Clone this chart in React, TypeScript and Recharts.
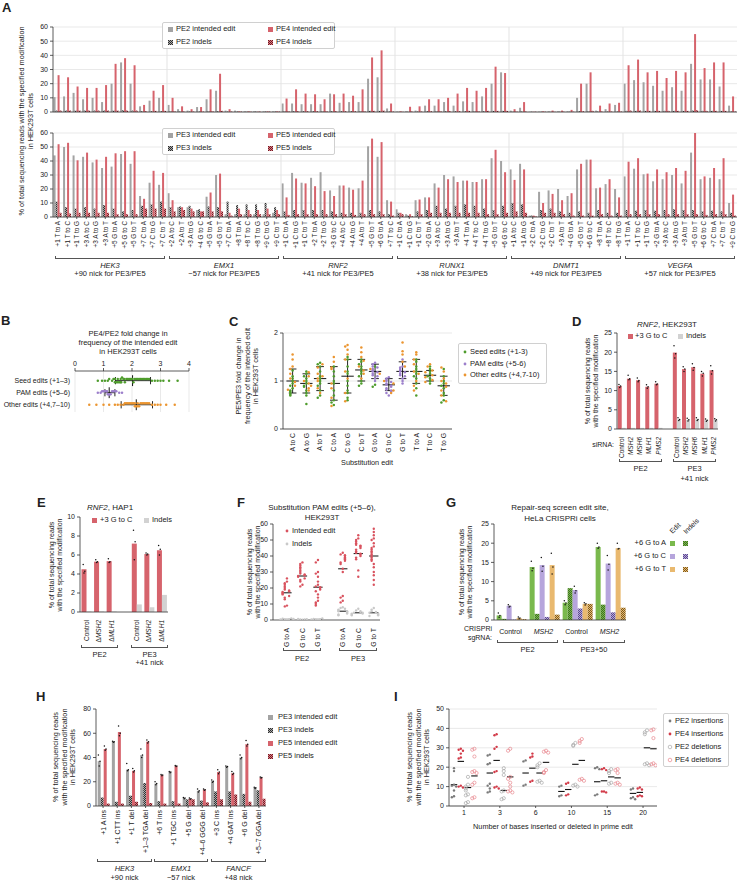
import React from 'react';
import { BarChart, Bar, XAxis, YAxis, CartesianGrid, ScatterChart, Scatter, ReferenceLine } from 'recharts';

const FONT = '"Liberation Sans", Arial, Helvetica, sans-serif';
const INK = '#222';
const GRID = '#e3e3e3';
const GRAY = '#a3a3a3';
const RED = '#d6636c';
const LIGHT = '#d2d2d2';
const GREEN = '#7ab94d';
const PURPLE = '#b6a5dc';
const TAN = '#e9b96f';
const SEED = '#4e9c2c';
const PAM = '#9c7fcb';
const OTHER = '#eb9530';

// ---------- panel A ----------
const hek3Edits = ['+1 T to A', '+1 T to C', '+1 T to G', '+3 A to C', '+3 A to G', '+3 A to T', '+5 G to A', '+5 G to C', '+5 G to T', '+7 C to A', '+7 C to G', '+7 C to T'];
const emx1Edits = ['+2 A to C', '+2 A to T', '+3 A to G', '+4 G to C', '+5 G to A', '+5 G to T', '+7 C to A', '+8 T to A', '+8 T to C', '+8 T to G', '+9 C to G', '+9 C to T'];
const rnf2Edits = ['+1 C to A', '+1 C to G', '+1 C to T', '+2 T to A', '+2 T to G', '+3 G to C', '+4 A to C', '+4 A to G', '+4 A to T', '+5 G to T', '+6 G to A', '+7 T to C'];
const runx1Edits = ['+1 C to A', '+1 C to G', '+1 C to T', '+2 G to A', '+3 A to C', '+3 A to G', '+3 A to T', '+4 T to A', '+4 T to C', '+4 T to G', '+5 G to T', '+6 G to C'];
const dnmt1Edits = ['+1 A to C', '+1 A to G', '+2 C to A', '+2 C to G', '+2 C to T', '+3 A to T', '+4 G to A', '+5 G to T', '+6 G to C', '+8 T to A', '+8 T to C', '+8 T to G'];
const vegfaEdits = ['+1 T to A', '+1 T to C', '+1 T to G', '+2 G to A', '+3 A to C', '+3 A to G', '+3 A to T', '+5 G to T', '+6 G to C', '+7 C to A', '+7 C to T', '+9 C to G'];
const aGenes = ['HEK3', 'EMX1', 'RNF2', 'RUNX1', 'DNMT1', 'VEGFA'];
const aNicks = ['+90 nick for PE3/PE5', '\u221257 nick for PE3/PE5', '+41 nick for PE3/PE5', '+38 nick for PE3/PE5', '+49 nick for PE3/PE5', '+57 nick for PE3/PE5'];
const aEdits = [hek3Edits, emx1Edits, rnf2Edits, runx1Edits, dnmt1Edits, vegfaEdits];

const pe2Edit = [
  10.5, 11, 13.5, 9, 10, 7, 20, 35, 20, 4, 8, 10,
  5, 2, 1, 3.5, 9, 15, 1, 1, 0.5, 0.5, 0.5, 0.5,
  6, 6, 5.5, 5.5, 5.5, 13, 6.5, 7, 7, 23.5, 24.5, 2.5,
  0.3, 0.5, 1, 4.5, 4.5, 7, 4.5, 7.5, 7, 11, 20, 28,
  1, 3, 0.2, 0.3, 0.5, 0.5, 0.5, 10, 20, 1, 2, 5,
  20, 22.5, 21, 18.5, 15, 17.5, 15, 34, 23, 23, 18, 4.5,
];
const pe2Indel = [
  1, 1, 1, 1, 1, 1, 1, 1.2, 1, 0.5, 0.5, 0.5,
  0.5, 0.3, 0.3, 0.3, 0.5, 0.5, 0.3, 0.3, 0.3, 0.3, 0.3, 0.3,
  0.5, 0.5, 0.5, 0.5, 0.5, 0.5, 0.5, 0.5, 0.5, 0.8, 0.8, 0.3,
  0.2, 0.2, 0.3, 0.5, 0.5, 0.5, 0.5, 0.5, 0.5, 0.5, 0.8, 0.8,
  0.3, 0.3, 0.2, 0.2, 0.2, 0.2, 0.2, 0.5, 0.5, 0.3, 0.3, 0.3,
  0.8, 0.8, 0.8, 0.8, 0.8, 0.8, 0.8, 1, 0.8, 0.8, 0.8, 0.3,
];
const pe4Edit = [
  26, 24.5, 18, 17, 17, 19, 34, 38, 33, 5, 15, 19,
  10, 4, 2, 3.5, 16, 27, 2, 0.5, 0.5, 0.3, 0.5, 0.5,
  9.5, 16, 13, 12.5, 9, 12.5, 13, 11.5, 16, 38.5, 43.5, 6,
  0.5, 3.7, 4, 9, 9, 10, 13, 17, 15, 17, 32, 27.5,
  2, 7, 0.2, 0.5, 1, 1, 1.5, 20, 28, 4.5, 6, 6.5,
  33, 37, 28, 29, 24, 29, 28, 55, 31, 35, 35, 11,
];
const pe4Indel = [
  1, 1, 1, 1, 1, 1, 1, 1, 1, 0.5, 0.8, 0.8,
  0.5, 0.3, 0.3, 0.3, 0.5, 0.8, 0.3, 0.3, 0.3, 0.3, 0.3, 0.3,
  0.5, 0.5, 0.5, 0.5, 0.5, 0.5, 0.5, 0.5, 0.5, 0.8, 1, 0.3,
  0.2, 0.3, 0.3, 0.5, 0.5, 0.5, 0.5, 0.8, 0.5, 0.8, 0.8, 0.8,
  0.3, 0.3, 0.2, 0.2, 0.2, 0.2, 0.2, 0.5, 0.8, 0.3, 0.3, 0.3,
  1, 1, 0.8, 0.8, 0.8, 0.8, 0.8, 1.2, 0.8, 0.8, 0.8, 0.3,
];
const pe3Edit = [
  44, 50, 44, 43, 39, 35, 36, 45, 38, 15, 24.5, 23,
  17, 7, 7, 5, 14.5, 30, 2, 2, 2, 2, 2, 3,
  24, 31.5, 24.5, 28, 32, 19, 22.5, 21, 20.5, 50.5, 43, 12,
  5.5, 2, 12, 14, 24, 30, 29, 26, 25, 27, 42, 40,
  34, 38, 1, 18, 19, 20, 15, 34, 41, 20.5, 23.5, 20,
  29, 34.5, 30.5, 25.5, 27, 30, 24, 46, 27, 28, 27, 10,
];
const pe3Indel = [
  11, 7, 6, 7, 6, 8.5, 6, 4, 5, 8, 9, 11,
  7, 7.5, 8, 5.5, 7.5, 7, 11, 8.5, 9, 9, 10, 7,
  4, 5, 5, 5, 5, 4, 3, 3, 3, 5, 4, 2,
  3, 1, 4, 5, 8, 6, 8, 9, 8, 6, 5, 8,
  10, 9, 1, 5, 6, 4, 3, 4, 3, 5, 3, 3,
  5, 4.5, 5, 4.5, 5, 5.5, 5, 5, 4, 4.5, 4, 3,
];
const pe5Edit = [
  52, 53, 40.5, 46, 41, 43, 45.5, 47, 47, 13, 33, 31.5,
  12, 7, 6, 4, 17.5, 31, 3, 6, 5, 5, 6, 5,
  14, 27.5, 24, 22, 18.5, 15, 22.5, 19.5, 26, 56, 53.5, 11,
  3, 2, 12.5, 14, 21, 27, 25, 26, 25, 27, 48, 32,
  26.5, 34, 1, 10, 16.5, 12, 17, 38, 41, 21, 27, 14,
  39.5, 42, 31, 34, 32, 35, 33, 60, 29, 35, 42, 16,
];
const pe5Indel = [
  3, 2.5, 3, 3, 3, 3, 2, 2, 2, 6, 6, 6,
  4, 5, 4, 4, 4, 4, 1, 2, 2, 2, 2, 2,
  1.5, 2, 2, 2, 2, 2, 2, 1.5, 2, 2, 2, 1,
  2, 0.5, 2, 3, 3, 3, 3, 3, 3, 2, 2, 3,
  4, 3, 0.5, 3, 3, 2, 1, 1, 1, 2, 1, 1,
  2, 2, 2, 2, 2, 2, 2, 2, 1.5, 2, 2, 1,
];

const aRows = aEdits.flatMap((list, g) =>
  list.map((e, j) => {
    const i = g * 12 + j;
    return {
      key: `${aGenes[g]}|${e}`,
      pe2Edit: pe2Edit[i], pe2Indel: pe2Indel[i], pe4Edit: pe4Edit[i], pe4Indel: pe4Indel[i],
      pe3Edit: pe3Edit[i], pe3Indel: pe3Indel[i], pe5Edit: pe5Edit[i], pe5Indel: pe5Indel[i],
    };
  })
);

// ---------- panel B ----------
const bRows = ['Seed edits (+1–3)', 'PAM edits (+5–6)', 'Other edits (+4,7–10)'];
const bSeed = [0.8, 0.95, 1.05, 1.15, 1.2, 1.3, 1.35, 1.4, 1.4, 1.45, 1.5, 1.5, 1.55, 1.6, 1.6, 1.62, 1.65, 1.7, 1.72, 1.75, 1.8, 1.85, 1.9, 1.95, 2.0, 2.02, 2.05, 2.1, 2.15, 2.2, 2.25, 2.3, 2.35, 2.4, 2.45, 2.5, 2.55, 2.6, 2.7, 2.8, 2.9, 3.0, 3.1, 3.3, 3.6];
const bPam = [0.8, 0.9, 0.95, 1.0, 1.05, 1.1, 1.12, 1.15, 1.18, 1.2, 1.22, 1.25, 1.3, 1.35, 1.4, 1.45, 1.55, 1.65];
const bOther = [0.5, 0.75, 1.0, 1.2, 1.4, 1.5, 1.6, 1.7, 1.75, 1.8, 1.85, 1.9, 1.95, 2.0, 2.05, 2.1, 2.1, 2.15, 2.2, 2.2, 2.25, 2.3, 2.35, 2.4, 2.45, 2.5, 2.55, 2.6, 2.7, 2.8, 2.9, 3.0, 3.2, 3.5];
const bCenter = [2.02, 1.2, 2.15];
const bLow = [1.42, 1.05, 1.62];
const bHigh = [2.65, 1.4, 2.72];

// ---------- panel C ----------
const cSubs = ['A to C', 'A to G', 'A to T', 'C to A', 'C to G', 'C to T', 'G to A', 'G to C', 'G to T', 'T to A', 'T to C', 'T to G'];
const cSeed = [
  [1.22, 1.1, 1.05, 1.0, 0.95, 0.9, 0.85, 0.8, 0.78, 0.75, 0.72, 0.7],
  [1.2, 1.15, 1.1, 1.05, 1.0, 0.95, 0.9, 0.88, 0.8, 0.75, 0.7, 0.52],
  [1.38, 1.35, 1.3, 1.2, 1.1, 1.05, 1.0, 0.95, 0.9, 0.8, 0.7, 0.65],
  [1.3, 1.2, 1.1, 1.0, 0.95, 0.8, 0.7, 0.6, 0.55, 0.5],
  [1.5, 1.45, 1.3, 1.2, 1.15, 1.0, 0.9, 0.8, 0.75, 0.65, 0.6],
  [1.45, 1.4, 1.35, 1.3, 1.25, 1.2, 1.15, 1.1, 1.0, 0.95, 0.9],
  [1.3, 0.92, 0.88],
  [],
  [],
  [1.45, 1.4, 1.3, 1.25, 1.2, 1.15, 1.1, 1.05, 0.95, 0.85, 0.7],
  [1.3, 1.25, 1.2, 1.15, 1.1, 1.05, 1.0, 0.95],
  [1.25, 1.1, 1.0, 0.95, 0.9, 0.85, 0.75, 0.7, 0.6, 0.55],
];
const cPam = [
  [], [], [], [], [], [],
  [1.38, 1.35, 1.3, 1.28, 1.25, 1.22, 1.2, 1.18, 1.15, 1.12, 1.1, 1.05, 1.0],
  [1.08, 1.05, 1.02, 1.0, 0.98, 0.95, 0.92, 0.9, 0.88, 0.85, 0.82, 0.8, 0.78, 0.75, 0.7],
  [1.45, 1.3, 1.28, 1.25, 1.22, 1.2, 1.18, 1.15, 1.12, 1.1, 1.05, 1.0, 0.95],
  [], [], [],
];
const cOther = [
  [1.55, 1.45, 1.3, 1.25, 1.15, 1.05, 0.98, 0.9, 0.82],
  [1.18, 1.1, 1.0, 0.95, 0.9, 0.85, 0.8],
  [1.35, 1.28, 1.15, 1.1, 1.05, 1.0, 0.85, 0.75],
  [1.5, 1.4, 1.28, 1.25, 0.95, 0.85, 0.65, 0.48],
  [1.75, 1.72, 1.65, 1.55, 1.45, 1.2, 1.05, 0.75, 0.58],
  [1.7, 1.6, 1.5, 1.42, 1.3, 1.22, 1.15, 1.05],
  [1.25, 1.15],
  [1.0, 0.95, 0.8, 0.75],
  [1.8, 1.62, 1.55, 1.4, 1.3],
  [1.6, 1.55, 1.45, 1.35, 1.2, 1.15, 1.0, 0.9, 0.8],
  [1.35, 1.3, 1.22, 1.18, 1.12, 1.08, 1.02, 0.98],
  [1.28, 1.2, 1.05, 1.0, 0.95, 0.88, 0.8, 0.7, 0.58],
];
const cMean = [1.0, 0.95, 1.05, 0.95, 1.1, 1.23, 1.2, 0.92, 1.2, 1.2, 1.12, 0.9];
const cLow = [0.75, 0.75, 0.8, 0.6, 0.75, 1.0, 1.05, 0.8, 1.05, 0.95, 1.0, 0.7];
const cHigh = [1.25, 1.15, 1.3, 1.3, 1.45, 1.45, 1.35, 1.05, 1.4, 1.45, 1.22, 1.1];

// ---------- panel D ----------
const dSiRna = ['Control', 'MSH2', 'MSH6', 'MLH1', 'PMS2'];
const dPe2Edit = [11.2, 13.1, 12.7, 11.0, 11.8];
const dPe3Edit = [19.9, 15.6, 16.1, 14.4, 15.3];
const dPe2Indel = [0.3, 0.3, 0.3, 0.3, 0.3];
const dPe3Indel = [2.5, 2.4, 2.5, 2.3, 2.4];
const dPe2EditReps = [[11.6, 11.2, 10.8], [14.0, 13.1, 12.8], [13.3, 12.6, 12.3], [11.5, 11.0, 10.6], [12.3, 11.7, 11.5]];
const dPe3EditReps = [[21.7, 19.6, 18.5], [16.2, 15.6, 15.0], [17.0, 16.0, 15.3], [15.0, 14.5, 13.8], [16.5, 15.2, 14.3]];
const dPe3IndelReps = [[2.9, 2.5, 2.2], [2.8, 2.4, 2.1], [2.9, 2.5, 2.2], [2.6, 2.3, 2.0], [2.7, 2.4, 2.1]];

// ---------- panel E ----------
const eLines = ['Control', '\u0394MSH2', '\u0394MLH1'];
const ePe2Edit = [4.5, 5.3, 5.35];
const ePe3Edit = [7.2, 6.1, 6.5];
const ePe2Indel = [0.05, 0.05, 0.05];
const ePe3Indel = [0.8, 0.5, 1.8];
const ePe2EditReps = [[5.0, 4.3, 4.1], [5.5, 5.3, 5.2], [5.6, 5.3, 5.2]];
const ePe3EditReps = [[8.6, 7.4, 5.5], [6.2, 6.1, 6.0], [7.0, 6.6, 6.0]];

// ---------- panel F ----------
const fSubs = ['G to A', 'G to C', 'G to T'];
const fEdit = [
  [26, 24, 23, 22, 21, 20, 19, 18.5, 18, 17.5, 17, 16.5, 16, 15, 14, 13, 9, 8.5],
  [36, 35, 34, 33, 32, 31, 30, 29, 28.5, 28, 27.5, 27, 26, 25, 24, 22, 21],
  [37.5, 36, 30, 29, 27, 24, 22, 21, 20.5, 20, 19, 18, 16, 14, 12, 11, 10, 9],
  [42, 41, 40.5, 40, 39, 38.5, 38, 37, 36, 35, 32, 30, 15, 14, 12, 11],
  [53, 51, 50, 49, 48, 47, 46.5, 46, 45, 44, 43, 42, 41.5, 41, 40, 39, 38, 31, 27],
  [57, 55, 53, 51, 50, 48, 46, 45, 44, 43, 42, 41, 40, 39, 38, 37, 35, 33, 30, 28, 25, 22],
];
const fIndel = [
  [0.2, 0.3, 0.5, 0.8, 1, 0.4, 0.6],
  [0.2, 0.3, 0.4, 0.6, 0.5],
  [0.2, 0.4, 0.5, 0.7, 0.9, 0.3],
  [8, 7.5, 7, 6.5, 6, 5.5, 5.5, 5, 4.5, 4, 3.5, 3],
  [7, 6, 5.5, 5, 4.5, 4.5, 4, 4, 3.5, 3],
  [7.5, 6.5, 5.5, 5, 4.5, 4.5, 4, 3.5, 3, 2.5],
];
const fEditMedian = [17, 27.5, 20.5, 32, 41.5, 40];
const fIndelMedian = [0.4, 0.3, 0.4, 5.5, 4.5, 4.5];

// ---------- panel G ----------
const gGroups = ['PE2|Control', 'PE2|MSH2', 'PE3|Control', 'PE3|MSH2'];
const gEditA = [1.2, 13.8, 4.5, 19];
const gIndelA = [0.3, 1.6, 8.3, 4];
const gEditC = [3.7, 14.3, 7.8, 14.7];
const gIndelC = [0.1, 0.8, 3, 2];
const gEditT = [0.5, 14.3, 4.2, 18.7];
const gIndelT = [0.2, 1.4, 4.2, 3.2];
const gEditAReps = [[1.8, 1.2, 0.7], [15.3, 13.5, 12.8], [5.0, 4.4, 4.0], [20.0, 19.0, 18.7]];
const gEditCReps = [[4.0, 3.6, 3.4], [16.3, 14.0, 12.7], [8.8, 7.6, 7.0], [16.8, 14.5, 13.0]];
const gEditTReps = [[0.8, 0.5, 0.3], [17.4, 13.8, 12.0], [4.5, 4.2, 3.9], [20.0, 18.6, 18.5]];

// ---------- panel H ----------
const hEdits = ['+1 A ins', '+1 CTT ins', '+1 T del', '+1–3 TGA del', '+6 T ins', '+1 TGC ins', '+5 G del', '+4–6 GGG del', '+3 C ins', '+4 GAT ins', '+6 G del', '+5–7 GGA del'];
const hPe3Edit = [37, 53, 30, 42, 18.5, 28, 6.5, 12.5, 20.5, 32.5, 40, 15];
const hPe3Indel = [7, 3.5, 8.5, 19, 4, 4, 5.5, 4.5, 12, 12, 10, 13];
const hPe5Edit = [47, 61, 29, 53, 25.5, 33, 6, 13.5, 28, 27, 51, 23.5];
const hPe5Indel = [2, 2, 3.5, 2.5, 2, 2, 5.5, 3, 5.5, 9.5, 3.5, 6];
const hPe3EditReps = [[42, 37, 33], [53.5, 53, 52.5], [35, 30, 29], [47, 42, 40], [20, 18.5, 17.5], [28.5, 28, 27.5], [7, 6.5, 6], [14, 12.5, 11.5], [21.5, 20.5, 19.5], [33, 32.5, 32], [42, 40, 39], [15.5, 15, 14.5]];
const hPe5EditReps = [[49.5, 47, 46], [66, 60, 58], [31, 29, 28], [54.5, 53, 52], [26, 25.5, 25], [33.5, 33, 32.5], [6.5, 6, 5.5], [14, 13.5, 13], [30, 28, 26.5], [28.5, 27, 26], [54, 51, 49.5], [24, 23.5, 23]];

// ---------- panel I ----------
const iSizes = ['1', '3', '6', '10', '15', '20'];
const iPe2Ins = [
  [19.5, 18, 11, 10.5, 10, 8, 5, 4.5],
  [26.5, 26, 22, 21.5, 11.5, 10.5, 9, 7.5, 7],
  [23.5, 23, 11, 10.5],
  [10.5, 10, 5.5, 5],
  [20, 19.5, 19, 6, 5.5],
  [9, 8.5, 4.5, 4, 3.5],
];
const iPe4Ins = [
  [29.5, 29, 28.5, 27, 25, 24.5, 10.5, 10, 9.5],
  [37, 36.5, 30.5, 29.5, 18, 17.5, 10, 9.5, 9],
  [27, 25.5, 25, 13, 12.5],
  [12, 11.5, 6, 5.5],
  [19.5, 19, 18.5, 7.5, 7.5, 7],
  [9.5, 9, 8.5, 5.5, 5, 5],
];
const iPe2Del = [
  [15, 11, 10, 9, 8, 6, 5.5, 2, 1.5],
  [19.5, 18, 16, 8, 7.5, 4, 3.5],
  [22, 21, 20, 13, 12.5, 12],
  [32.5, 31.5, 31, 11, 10.5, 10],
  [19, 18, 17, 12, 11.5],
  [39, 38, 37, 22, 21.5, 21],
];
const iPe4Del = [
  [29.5, 29, 25.5, 18, 17.5, 17, 12, 11, 4.5, 4],
  [29.5, 28.5, 15, 14, 12, 10, 8, 7.5, 7],
  [28.5, 28, 27.5, 18.5, 17.5, 17],
  [34.5, 33.5, 32.5, 14, 13.5, 13],
  [19, 18.5, 17, 12, 11.5, 11],
  [39.5, 39, 35, 22, 21.5, 21],
];
const iMedPe2Ins = [11, 17, 17, 7.5, 12.5, 6.5];
const iMedPe4Ins = [23, 23.5, 19.5, 8.5, 13, 7];
const iMedPe2Del = [9.5, 8, 17, 21.5, 15, 30];
const iMedPe4Del = [15.5, 15, 22.5, 23.5, 14.5, 29.5];

// ---------- helpers ----------
type Rect = { left: number; top: number; width: number; height: number };
const MG = { top: 8, right: 8, bottom: 4, left: 4 };
const TICK = { fontSize: 7, fill: INK, fontFamily: FONT };
const AX = { stroke: '#333', strokeWidth: 0.8 };

function frame(pl: number, pt: number, pr: number, pb: number, yw: number, xh: number, xTop = false): Rect {
  const left = pl - yw - MG.left;
  const top = pt - MG.top - (xTop ? xh : 0);
  return { left, top, width: pr + MG.right - left, height: pb + MG.bottom + (xTop ? 0 : xh) - top };
}
const pos = (r: Rect): React.CSSProperties => ({ position: 'absolute', left: r.left, top: r.top, width: r.width, height: r.height });

function swarm(vals: number[], bin: number, step: number): number[] {
  const seen: number[] = [];
  return vals.map((v) => {
    const k = seen.filter((s) => Math.abs(s - v) < bin).length;
    seen.push(v);
    return (k % 2 ? -1 : 1) * Math.ceil(k / 2) * step;
  });
}

const hatch = (id: string, bg: string, fg: string) => (
  <pattern id={id} width={2} height={2} patternUnits="userSpaceOnUse">
    <rect width={2} height={2} fill={bg} />
    <rect width={1} height={1} fill={fg} />
    <rect x={1} y={1} width={1} height={1} fill={fg} />
  </pattern>
);

// bar with its replicate dots, placed with the bar's own pixel scale (height / value)
const repBar = (fill: string, dataKey: string, repKey: string) => (p: any) => {
  const v = Number(p.payload?.[dataKey]);
  const reps: number[] | undefined = p.payload?.[repKey];
  const h = Math.max(0, Number(p.height) || 0);
  const per = v > 0 ? h / v : 0;
  const base = p.y + h;
  const jit = [-0.8, 0.8, 0];
  return (
    <g>
      <rect x={p.x} y={p.y} width={p.width} height={h} fill={fill} />
      {reps && per > 0
        ? reps.map((r, k) => <circle key={k} cx={p.x + p.width / 2 + jit[k % 3]} cy={base - r * per} r={0.75} fill="#111" />)
        : null}
    </g>
  );
};

const dot = (fill: string, r: number, open = false) => (p: any) =>
  open ? (
    <circle cx={p.cx} cy={p.cy} r={r} fill="none" stroke={fill} strokeWidth={0.7} />
  ) : (
    <circle cx={p.cx} cy={p.cy} r={r} fill={fill} />
  );

const gene = (s: string) => {
  if (s === 'Control') return s;
  if (s.startsWith('\u0394')) return [<tspan key="d">{'\u0394'}</tspan>, <tspan key="g" fontStyle="italic">{s.slice(1)}</tspan>];
  return <tspan fontStyle="italic">{s}</tspan>;
};

const rotTick = (fmt: (v: string) => React.ReactNode, fs = 6.5) => (p: any) => {
  const v = String(p.payload.value);
  if (v === 'gap') return <g />;
  return (
    <g transform={`translate(${p.x},${p.y})`}>
      <text transform="rotate(-90)" x={0} y={fs * 0.35} textAnchor="end" fontSize={fs} fontFamily={FONT} fill={INK}>
        {fmt(v)}
      </text>
    </g>
  );
};

function Lbl({ x, y, children, size = 7, align = 'c', rot = 0, bold = false, italic = false }: any) {
  const tx = rot ? '-50%' : align === 'c' ? '-50%' : align === 'r' ? '-100%' : '0%';
  return (
    <div
      style={{
        position: 'absolute', left: x, top: y,
        transform: `translate(${tx}, -50%)${rot ? ` rotate(${rot}deg)` : ''}`,
        fontSize: size, lineHeight: 1, whiteSpace: 'nowrap', color: INK,
        fontWeight: bold ? 700 : 400, fontStyle: italic ? 'italic' : 'normal',
      }}
    >
      {children}
    </div>
  );
}

const Letter = ({ x, y, c }: { x: number; y: number; c: string }) => <Lbl x={x} y={y} size={13} bold align="l">{c}</Lbl>;

const Bracket = ({ x1, x2, y }: { x1: number; x2: number; y: number }) => (
  <div style={{ position: 'absolute', left: x1, top: y - 3, width: x2 - x1, height: 3, boxSizing: 'border-box', borderLeft: '1px solid #555', borderRight: '1px solid #555', borderBottom: '1px solid #555' }} />
);

const Swatch = ({ id, bg, fg, x, y, size = 5 }: any) => (
  <svg width={size} height={size} style={{ position: 'absolute', left: x, top: y - size / 2 }}>
    {fg ? <defs>{hatch(id, bg, fg)}</defs> : null}
    <rect width={size} height={size} fill={fg ? `url(#${id})` : bg} />
  </svg>
);

const Circ = ({ x, y, color, open = false }: any) => (
  <svg width={6} height={6} style={{ position: 'absolute', left: x, top: y - 3 }}>
    {open ? <circle cx={3} cy={3} r={1.8} fill="none" stroke={color} strokeWidth={0.7} /> : <circle cx={3} cy={3} r={1.4} fill={color} />}
  </svg>
);

const Box = ({ x, y, w, h }: any) => (
  <div style={{ position: 'absolute', left: x, top: y, width: w, height: h, boxSizing: 'border-box', border: '1px solid #d0d0d0', borderRadius: 2, background: '#fff' }} />
);

// ---------- panels ----------
function AChart({ r, series, labels, pid }: { r: Rect; series: string[]; labels: boolean; pid: string }) {
  return (
    <div style={pos(r)}>
      <BarChart width={r.width} height={r.height} data={aRows} margin={MG} barCategoryGap="6%" barGap={0}>
        <defs>
          {hatch(`${pid}g`, '#a8a8a8', '#2e2e2e')}
          {hatch(`${pid}r`, '#dc7880', '#6e1c24')}
        </defs>
        <CartesianGrid vertical={false} stroke={GRID} strokeWidth={0.8} />
        {aGenes.slice(1).map((g, k) => (
          <ReferenceLine key={g} x={`${g}|${aEdits[k + 1][0]}`} position="start" stroke={GRID} strokeWidth={1} />
        ))}
        <XAxis dataKey="key" interval={0} height={labels ? 44 : 3} tick={labels ? rotTick((v) => v.split('|')[1], 6.4) : false} tickSize={2} tickLine={AX} axisLine={AX} />
        <YAxis type="number" width={24} domain={[0, 60]} ticks={[0, 10, 20, 30, 40, 50, 60]} interval={0} tick={TICK} tickSize={3} tickLine={AX} axisLine={AX} allowDataOverflow />
        <Bar dataKey={series[0]} fill={GRAY} isAnimationActive={false} />
        <Bar dataKey={series[1]} fill={`url(#${pid}g)`} isAnimationActive={false} />
        <Bar dataKey={series[2]} fill={RED} isAnimationActive={false} />
        <Bar dataKey={series[3]} fill={`url(#${pid}r)`} isAnimationActive={false} />
      </BarChart>
    </div>
  );
}

function ALegend({ y, a, b, pid }: { y: number; a: string; b: string; pid: string }) {
  return (
    <>
      <Box x={162} y={y} w={173} h={27} />
      <Swatch x={168} y={y + 7} bg={GRAY} />
      <Lbl x={176} y={y + 7} align="l" size={7.5}>{a} intended edit</Lbl>
      <Swatch x={168} y={y + 20} id={`${pid}lg`} bg="#a8a8a8" fg="#2e2e2e" />
      <Lbl x={176} y={y + 20} align="l" size={7.5}>{a} indels</Lbl>
      <Swatch x={268} y={y + 7} bg={RED} />
      <Lbl x={276} y={y + 7} align="l" size={7.5}>{b} intended edit</Lbl>
      <Swatch x={268} y={y + 20} id={`${pid}lr`} bg="#dc7880" fg="#6e1c24" />
      <Lbl x={276} y={y + 20} align="l" size={7.5}>{b} indels</Lbl>
    </>
  );
}

function PanelA() {
  const rTop = frame(53, 27, 737, 112, 24, 3);
  const rBot = frame(53, 133, 737, 217, 24, 44);
  const gw = (737 - 53) / 6;
  return (
    <>
      <Letter x={2} y={7} c="A" />
      <Lbl x={22} y={121} rot={-90} size={7.3}>% of total sequencing reads with the specified modification</Lbl>
      <Lbl x={30.5} y={121} rot={-90} size={7.3}>in HEK293T cells</Lbl>
      <AChart r={rTop} series={['pe2Edit', 'pe2Indel', 'pe4Edit', 'pe4Indel']} labels={false} pid="at" />
      <AChart r={rBot} series={['pe3Edit', 'pe3Indel', 'pe5Edit', 'pe5Indel']} labels={true} pid="ab" />
      <ALegend y={22} a="PE2" b="PE4" pid="at" />
      <ALegend y={128} a="PE3" b="PE5" pid="ab" />
      {aGenes.map((g, k) => (
        <React.Fragment key={g}>
          <Bracket x1={53 + gw * k + 2} x2={53 + gw * (k + 1) - 2} y={259} />
          <Lbl x={53 + gw * (k + 0.5)} y={265.5} italic size={7.5}>{g}</Lbl>
          <Lbl x={53 + gw * (k + 0.5)} y={274} size={7.5}>{aNicks[k]}</Lbl>
        </React.Fragment>
      ))}
    </>
  );
}

function PanelB() {
  const r = frame(75, 371, 189, 412, 72, 14, true);
  const sets = [bSeed, bPam, bOther];
  const cols = [SEED, PAM, OTHER];
  const segs = bCenter.flatMap((c, i) => [
    <ReferenceLine key={`h${i}`} segment={[{ x: bLow[i], y: i }, { x: bHigh[i], y: i }]} stroke="#111" strokeWidth={0.9} />,
    <ReferenceLine key={`l${i}`} segment={[{ x: bLow[i], y: i - 0.3 }, { x: bLow[i], y: i + 0.3 }]} stroke="#111" strokeWidth={0.9} />,
    <ReferenceLine key={`u${i}`} segment={[{ x: bHigh[i], y: i - 0.3 }, { x: bHigh[i], y: i + 0.3 }]} stroke="#111" strokeWidth={0.9} />,
    <ReferenceLine key={`c${i}`} segment={[{ x: c, y: i - 0.45 }, { x: c, y: i + 0.45 }]} stroke="#111" strokeWidth={1} />,
  ]);
  const bTick = (p: any) => (
    <text x={p.x} y={p.y} dy={2.5} textAnchor="end" fontSize={7} fontFamily={FONT} fill={INK}>
      {bRows[Number(p.payload.value)]}
    </text>
  );
  return (
    <>
      <Letter x={1} y={320} c="B" />
      <Lbl x={128} y={334} size={7.5}>PE4/PE2 fold change in</Lbl>
      <Lbl x={128} y={343} size={7.5}>frequency of the intended edit</Lbl>
      <Lbl x={128} y={352} size={7.5}>in HEK293T cells</Lbl>
      <div style={pos(r)}>
        <ScatterChart width={r.width} height={r.height} margin={MG}>
          <CartesianGrid horizontal={false} stroke={GRID} strokeWidth={0.8} />
          <XAxis type="number" dataKey="x" orientation="top" domain={[0, 4]} ticks={[0, 1, 2, 3, 4]} interval={0} height={14} tick={TICK} tickSize={3} tickLine={AX} axisLine={AX} />
          <YAxis type="number" dataKey="y" domain={[-0.8, 2.6]} reversed ticks={[0, 1, 2]} interval={0} width={72} tick={bTick} tickSize={3} tickLine={false} axisLine={false} />
          {sets.map((vals, i) => {
            const off = swarm(vals, 0.06, 0.13);
            return <Scatter key={i} data={vals.map((v, k) => ({ x: v, y: i + off[k] }))} shape={dot(cols[i], 1.25)} isAnimationActive={false} />;
          })}
          {segs}
        </ScatterChart>
      </div>
    </>
  );
}

function PanelC() {
  const r = frame(283, 333, 452, 429, 22, 26);
  const series: { x: number; y: number }[][] = [[], [], []];
  cSubs.forEach((_, j) => {
    const all = [
      ...cSeed[j].map((v) => ({ v, g: 0 })),
      ...cPam[j].map((v) => ({ v, g: 1 })),
      ...cOther[j].map((v) => ({ v, g: 2 })),
    ];
    const off = swarm(all.map((a) => a.v), 0.05, 0.17);
    all.forEach((a, k) => series[a.g].push({ x: j + off[k], y: a.v }));
  });
  const cols = [SEED, PAM, OTHER];
  const segs = cMean.flatMap((m, j) => [
    <ReferenceLine key={`v${j}`} segment={[{ x: j, y: cLow[j] }, { x: j, y: cHigh[j] }]} stroke="#111" strokeWidth={0.9} />,
    <ReferenceLine key={`l${j}`} segment={[{ x: j - 0.28, y: cLow[j] }, { x: j + 0.28, y: cLow[j] }]} stroke="#111" strokeWidth={0.9} />,
    <ReferenceLine key={`u${j}`} segment={[{ x: j - 0.28, y: cHigh[j] }, { x: j + 0.28, y: cHigh[j] }]} stroke="#111" strokeWidth={0.9} />,
    <ReferenceLine key={`m${j}`} segment={[{ x: j - 0.45, y: m }, { x: j + 0.45, y: m }]} stroke="#111" strokeWidth={1} />,
  ]);
  return (
    <>
      <Letter x={229} y={321} c="C" />
      <Lbl x={239} y={376} rot={-90} size={7.3}>PE5/PE3 fold change in</Lbl>
      <Lbl x={247.5} y={376} rot={-90} size={7.3}>frequency of the intended edit</Lbl>
      <Lbl x={256} y={376} rot={-90} size={7.3}>in HEK293T cells</Lbl>
      <div style={pos(r)}>
        <ScatterChart width={r.width} height={r.height} margin={MG}>
          <CartesianGrid vertical={false} stroke={GRID} strokeWidth={0.8} />
          <XAxis type="number" dataKey="x" domain={[-0.7, 11.6]} ticks={cSubs.map((_, j) => j)} interval={0} height={26} tick={rotTick((v) => cSubs[Number(v)], 6.8)} tickSize={2} tickLine={false} axisLine={AX} allowDataOverflow />
          <YAxis type="number" dataKey="y" domain={[0, 2]} ticks={[0, 1, 2]} interval={0} width={22} tick={TICK} tickSize={3} tickLine={AX} axisLine={AX} allowDataOverflow />
          {series.map((pts, g) => (
            <Scatter key={g} data={pts} shape={dot(cols[g], 1.25)} isAnimationActive={false} />
          ))}
          {segs}
        </ScatterChart>
      </div>
      <Lbl x={367} y={463} size={7.3}>Substitution edit</Lbl>
      <Box x={458} y={343} w={89} h={41} />
      <Circ x={462} y={352} color={SEED} />
      <Lbl x={470} y={352} align="l" size={7.5}>Seed edits (+1-3)</Lbl>
      <Circ x={462} y={363.5} color={PAM} />
      <Lbl x={470} y={363.5} align="l" size={7.5}>PAM edits (+5-6)</Lbl>
      <Circ x={462} y={375} color={OTHER} />
      <Lbl x={470} y={375} align="l" size={7.5}>Other edits (+4,7-10)</Lbl>
    </>
  );
}

function PanelD() {
  const r = frame(617, 333, 718, 429, 24, 30);
  const rows = [
    ...dSiRna.map((s, i) => ({ key: `PE2|${s}`, edit: dPe2Edit[i], indel: dPe2Indel[i], er: dPe2EditReps[i] })),
    { key: 'gap' },
    ...dSiRna.map((s, i) => ({ key: `PE3|${s}`, edit: dPe3Edit[i], indel: dPe3Indel[i], er: dPe3EditReps[i], ir: dPe3IndelReps[i] })),
  ];
  return (
    <>
      <Letter x={572} y={321} c="D" />
      <Lbl x={667} y={325} size={8}><i>RNF2</i>, HEK293T</Lbl>
      <Lbl x={587} y={381} rot={-90} size={7}>% of total sequencing reads</Lbl>
      <Lbl x={595} y={381} rot={-90} size={7}>with the specified modification</Lbl>
      <Swatch x={628} y={336} bg={RED} />
      <Lbl x={635} y={336} align="l" size={7.5}>+3 G to C</Lbl>
      <Swatch x={678} y={336} bg={LIGHT} />
      <Lbl x={686} y={336} align="l" size={7.5}>Indels</Lbl>
      <div style={pos(r)}>
        <BarChart width={r.width} height={r.height} data={rows} margin={MG} barCategoryGap="8%" barGap={0}>
          <XAxis dataKey="key" interval={0} height={30} tick={rotTick((v) => gene(v.split('|')[1]), 6.5)} tickLine={false} axisLine={AX} />
          <YAxis type="number" width={24} domain={[0, 25]} ticks={[0, 5, 10, 15, 20, 25]} interval={0} tick={TICK} tickSize={3} tickLine={AX} axisLine={AX} />
          <Bar dataKey="edit" fill={RED} shape={repBar(RED, 'edit', 'er')} isAnimationActive={false} />
          <Bar dataKey="indel" fill={LIGHT} shape={repBar(LIGHT, 'indel', 'ir')} isAnimationActive={false} />
        </BarChart>
      </div>
      <Lbl x={614} y={444} align="r" size={7}>siRNA:</Lbl>
      <Bracket x1={619} x2={662} y={462} />
      <Lbl x={640.5} y={469} size={7.5}>PE2</Lbl>
      <Bracket x1={673} x2={716} y={462} />
      <Lbl x={694.5} y={469} size={7.5}>PE3</Lbl>
      <Lbl x={694.5} y={479} size={7.5}>+41 nick</Lbl>
    </>
  );
}

function PanelE() {
  const r = frame(80, 517, 168, 612, 22, 30);
  const rows = [
    ...eLines.map((s, i) => ({ key: `PE2|${s}`, edit: ePe2Edit[i], indel: ePe2Indel[i], er: ePe2EditReps[i] })),
    { key: 'gap' },
    ...eLines.map((s, i) => ({ key: `PE3|${s}`, edit: ePe3Edit[i], indel: ePe3Indel[i], er: ePe3EditReps[i] })),
  ];
  return (
    <>
      <Letter x={37} y={502} c="E" />
      <Lbl x={110} y={508} size={8}><i>RNF2</i>, HAP1</Lbl>
      <Lbl x={51} y={565} rot={-90} size={7}>% of total sequencing reads</Lbl>
      <Lbl x={59} y={565} rot={-90} size={7}>with the specified modification</Lbl>
      <Swatch x={92} y={520} bg={RED} />
      <Lbl x={100} y={520} align="l" size={7.5}>+3 G to C</Lbl>
      <Swatch x={144} y={520} bg={LIGHT} />
      <Lbl x={152} y={520} align="l" size={7.5}>Indels</Lbl>
      <div style={pos(r)}>
        <BarChart width={r.width} height={r.height} data={rows} margin={MG} barCategoryGap="12%" barGap={0}>
          <XAxis dataKey="key" interval={0} height={30} tick={rotTick((v) => gene(v.split('|')[1]), 6.5)} tickLine={false} axisLine={AX} />
          <YAxis type="number" width={22} domain={[0, 10]} ticks={[0, 2, 4, 6, 8, 10]} interval={0} tick={TICK} tickSize={3} tickLine={AX} axisLine={AX} />
          <Bar dataKey="edit" fill={RED} shape={repBar(RED, 'edit', 'er')} isAnimationActive={false} />
          <Bar dataKey="indel" fill={LIGHT} isAnimationActive={false} />
        </BarChart>
      </div>
      <Bracket x1={81} x2={118} y={648} />
      <Lbl x={99.5} y={655} size={7.5}>PE2</Lbl>
      <Bracket x1={131} x2={168} y={648} />
      <Lbl x={149.5} y={655} size={7.5}>PE3</Lbl>
      <Lbl x={149.5} y={663} size={7.5}>+41 nick</Lbl>
    </>
  );
}

function PanelF() {
  const r = frame(273, 524, 380, 620, 22, 28);
  const fPos = [0, 1, 2, 3.6, 4.6, 5.6];
  const editPts = fEdit.flatMap((vals, c) => {
    const off = swarm(vals, 1.6, 0.14);
    return vals.map((v, k) => ({ x: fPos[c] + off[k], y: v }));
  });
  const indelPts = fIndel.flatMap((vals, c) => {
    const off = swarm(vals, 1.6, 0.14);
    return vals.map((v, k) => ({ x: fPos[c] + off[k], y: v }));
  });
  const segs = fPos.flatMap((p, c) => [
    <ReferenceLine key={`e${c}`} segment={[{ x: p - 0.3, y: fEditMedian[c] }, { x: p + 0.3, y: fEditMedian[c] }]} stroke="#111" strokeWidth={1} />,
    <ReferenceLine key={`i${c}`} segment={[{ x: p - 0.3, y: fIndelMedian[c] }, { x: p + 0.3, y: fIndelMedian[c] }]} stroke="#111" strokeWidth={1} />,
  ]);
  return (
    <>
      <Letter x={237} y={502} c="F" />
      <Lbl x={322} y={508} size={8}>Substitution PAM edits (+5–6),</Lbl>
      <Lbl x={322} y={518} size={8}>HEK293T</Lbl>
      <Lbl x={249} y={572} rot={-90} size={7}>% of total sequencing reads</Lbl>
      <Lbl x={257} y={572} rot={-90} size={7}>with the specified modification</Lbl>
      <div style={pos(r)}>
        <ScatterChart width={r.width} height={r.height} margin={MG}>
          <XAxis type="number" dataKey="x" domain={[-0.9, 6]} ticks={fPos} interval={0} height={28} tick={rotTick((v) => fSubs[fPos.indexOf(Number(v)) % 3], 6.8)} tickLine={false} axisLine={AX} allowDataOverflow />
          <YAxis type="number" dataKey="y" domain={[0, 60]} ticks={[0, 10, 20, 30, 40, 50, 60]} interval={0} width={22} tick={TICK} tickSize={3} tickLine={AX} axisLine={AX} allowDataOverflow />
          <Scatter data={indelPts} shape={dot('#c9c9c9', 1.2)} isAnimationActive={false} />
          <Scatter data={editPts} shape={dot('#d9535f', 1.2)} isAnimationActive={false} />
          {segs}
        </ScatterChart>
      </div>
      <Circ x={284} y={531} color="#d9535f" />
      <Lbl x={292} y={531} align="l" size={7.5}>Intended edit</Lbl>
      <Circ x={284} y={544} color="#c9c9c9" />
      <Lbl x={292} y={544} align="l" size={7.5}>Indels</Lbl>
      <Bracket x1={283} x2={321} y={651} />
      <Lbl x={302} y={659} size={7.5}>PE2</Lbl>
      <Bracket x1={339} x2={377} y={651} />
      <Lbl x={358} y={659} size={7.5}>PE3</Lbl>
    </>
  );
}

function PanelG() {
  const r = frame(494, 524, 626, 620, 22, 14);
  const rows = gGroups.map((k, i) => ({
    key: k, ea: gEditA[i], ia: gIndelA[i], ec: gEditC[i], ic: gIndelC[i], et: gEditT[i], it: gIndelT[i],
    ra: gEditAReps[i], rc: gEditCReps[i], rt: gEditTReps[i],
  }));
  const gTick = (p: any) => {
    const s = String(p.payload.value).split('|')[1];
    return (
      <text x={p.x} y={p.y + 6} textAnchor="middle" fontSize={7} fontFamily={FONT} fill={INK} fontStyle={s === 'Control' ? 'normal' : 'italic'}>
        {s}
      </text>
    );
  };
  const rowsL = [['+6 G to A', GREEN, '#3f6e22'], ['+6 G to C', PURPLE, '#5a4a8a'], ['+6 G to T', TAN, '#7a5a20']];
  return (
    <>
      <Letter x={446} y={502} c="G" />
      <Lbl x={560} y={508} size={8}>Repair-seq screen edit site,</Lbl>
      <Lbl x={560} y={519} size={8}>HeLa CRISPRi cells</Lbl>
      <Lbl x={461} y={572} rot={-90} size={7}>% of total sequencing reads</Lbl>
      <Lbl x={469} y={572} rot={-90} size={7}>with the specified modification</Lbl>
      <div style={pos(r)}>
        <BarChart width={r.width} height={r.height} data={rows} margin={MG} barCategoryGap="8%" barGap={0}>
          <defs>
            {hatch('gha', GREEN, '#3f6e22')}
            {hatch('ghc', PURPLE, '#5a4a8a')}
            {hatch('ght', TAN, '#7a5a20')}
          </defs>
          <XAxis dataKey="key" interval={0} height={14} tick={gTick} tickLine={false} axisLine={AX} />
          <YAxis type="number" width={22} domain={[0, 25]} ticks={[0, 5, 10, 15, 20, 25]} interval={0} tick={TICK} tickSize={3} tickLine={AX} axisLine={AX} />
          <Bar dataKey="ea" fill={GREEN} shape={repBar(GREEN, 'ea', 'ra')} isAnimationActive={false} />
          <Bar dataKey="ia" fill="url(#gha)" isAnimationActive={false} />
          <Bar dataKey="ec" fill={PURPLE} shape={repBar(PURPLE, 'ec', 'rc')} isAnimationActive={false} />
          <Bar dataKey="ic" fill="url(#ghc)" isAnimationActive={false} />
          <Bar dataKey="et" fill={TAN} shape={repBar(TAN, 'et', 'rt')} isAnimationActive={false} />
          <Bar dataKey="it" fill="url(#ght)" isAnimationActive={false} />
        </BarChart>
      </div>
      <Lbl x={492} y={628} align="r" size={7}>CRISPRi</Lbl>
      <Lbl x={492} y={637} align="r" size={7}>sgRNA:</Lbl>
      <Bracket x1={497} x2={558} y={643} />
      <Lbl x={527.5} y={650} size={7.5}>PE2</Lbl>
      <Bracket x1={563} x2={625} y={643} />
      <Lbl x={594} y={650} size={7.5}>PE3+50</Lbl>
      <Lbl x={675} y={528} rot={-45} size={7}>Edit</Lbl>
      <Lbl x={691} y={526} rot={-45} size={7}>Indels</Lbl>
      {rowsL.map(([t, c, d], i) => (
        <React.Fragment key={t}>
          <Lbl x={666} y={543 + i * 13} align="r" size={7.5}>{t}</Lbl>
          <Swatch x={670} y={543 + i * 13} bg={c} />
          <Swatch x={683} y={543 + i * 13} id={`gl${i}`} bg={c} fg={d} />
        </React.Fragment>
      ))}
    </>
  );
}

function PanelH() {
  const r = frame(96, 709, 266, 806, 22, 48);
  const rows = hEdits.map((e, i) => ({ key: e, e3: hPe3Edit[i], i3: hPe3Indel[i], e5: hPe5Edit[i], i5: hPe5Indel[i], r3: hPe3EditReps[i], r5: hPe5EditReps[i] }));
  const genes: [string, string, number, number][] = [['HEK3', '+90 nick', 97, 152], ['EMX1', '\u221257 nick', 154, 208], ['FANCF', '+48 nick', 211, 266]];
  return (
    <>
      <Letter x={36} y={696} c="H" />
      <Lbl x={56} y={757} rot={-90} size={7.3}>% of total sequencing reads</Lbl>
      <Lbl x={64.5} y={757} rot={-90} size={7.3}>with the specified modification</Lbl>
      <Lbl x={73} y={757} rot={-90} size={7.3}>in HEK293T cells</Lbl>
      <div style={pos(r)}>
        <BarChart width={r.width} height={r.height} data={rows} margin={MG} barCategoryGap="12%" barGap={0}>
          <defs>
            {hatch('hh3', '#a8a8a8', '#2e2e2e')}
            {hatch('hh5', '#dc7880', '#6e1c24')}
          </defs>
          <XAxis dataKey="key" interval={0} height={48} tick={rotTick((v) => v, 7)} tickSize={2} tickLine={AX} axisLine={AX} />
          <YAxis type="number" width={22} domain={[0, 80]} ticks={[0, 20, 40, 60, 80]} interval={0} tick={TICK} tickSize={3} tickLine={AX} axisLine={AX} />
          <Bar dataKey="e3" fill={GRAY} shape={repBar(GRAY, 'e3', 'r3')} isAnimationActive={false} />
          <Bar dataKey="i3" fill="url(#hh3)" isAnimationActive={false} />
          <Bar dataKey="e5" fill={RED} shape={repBar(RED, 'e5', 'r5')} isAnimationActive={false} />
          <Bar dataKey="i5" fill="url(#hh5)" isAnimationActive={false} />
        </BarChart>
      </div>
      {genes.map(([g, n, a, b]) => (
        <React.Fragment key={g}>
          <Bracket x1={a} x2={b} y={862} />
          <Lbl x={(a + b) / 2} y={869} italic size={7.5}>{g}</Lbl>
          <Lbl x={(a + b) / 2} y={878} size={7.5}>{n}</Lbl>
        </React.Fragment>
      ))}
      <Swatch x={268} y={717} bg={GRAY} />
      <Lbl x={278} y={717} align="l" size={7.5}>PE3 intended edit</Lbl>
      <Swatch x={268} y={730} id="hl3" bg="#a8a8a8" fg="#2e2e2e" />
      <Lbl x={278} y={730} align="l" size={7.5}>PE3 indels</Lbl>
      <Swatch x={268} y={743} bg={RED} />
      <Lbl x={278} y={743} align="l" size={7.5}>PE5 intended edit</Lbl>
      <Swatch x={268} y={756} id="hl5" bg="#dc7880" fg="#6e1c24" />
      <Lbl x={278} y={756} align="l" size={7.5}>PE5 indels</Lbl>
    </>
  );
}

function PanelI() {
  const r = frame(449, 709, 657, 806, 22, 12);
  const sets = [iPe2Ins, iPe4Ins, iPe2Del, iPe4Del];
  const meds = [iMedPe2Ins, iMedPe4Ins, iMedPe2Del, iMedPe4Del];
  const shift = [-0.28, -0.09, 0.11, 0.29];
  const shapes = [dot('#7a7a7a', 1.2), dot('#d23a48', 1.2), dot('#a8a8a8', 1.6, true), dot('#e8868e', 1.6, true)];
  const segs = meds.flatMap((m, s) =>
    m.map((v, g) => (
      <ReferenceLine key={`${s}-${g}`} segment={[{ x: g + shift[s] - 0.09, y: v }, { x: g + shift[s] + 0.09, y: v }]} stroke="#111" strokeWidth={1.1} />
    ))
  );
  return (
    <>
      <Letter x={394} y={696} c="I" />
      <Lbl x={410} y={757} rot={-90} size={7.3}>% of total sequencing reads</Lbl>
      <Lbl x={418.5} y={757} rot={-90} size={7.3}>with the specified modification</Lbl>
      <Lbl x={427} y={757} rot={-90} size={7.3}>in HEK293T cells</Lbl>
      <div style={pos(r)}>
        <ScatterChart width={r.width} height={r.height} margin={MG}>
          <CartesianGrid vertical={false} stroke={GRID} strokeWidth={0.8} />
          <XAxis type="number" dataKey="x" domain={[-0.42, 5.39]} ticks={[0, 1, 2, 3, 4, 5]} interval={0} height={12} tick={TICK} tickFormatter={(v: number) => iSizes[v]} tickSize={2} tickLine={AX} axisLine={AX} allowDataOverflow />
          <YAxis type="number" dataKey="y" domain={[0, 50]} ticks={[0, 10, 20, 30, 40, 50]} interval={0} width={22} tick={TICK} tickSize={3} tickLine={AX} axisLine={AX} />
          {sets.map((groups, s) => {
            const pts = groups.flatMap((vals, g) => {
              const off = swarm(vals, 1.3, 0.06);
              return vals.map((v, k) => ({ x: g + shift[s] + off[k], y: v }));
            });
            return <Scatter key={s} data={pts} shape={shapes[s]} isAnimationActive={false} />;
          })}
          {segs}
        </ScatterChart>
      </div>
      <Lbl x={553} y={827} size={7.3}>Number of bases inserted or deleted in prime edit</Lbl>
      <Box x={663} y={713} w={66} h={54} />
      <Circ x={667} y={721} color="#7a7a7a" />
      <Lbl x={675} y={721} align="l" size={7.5}>PE2 insertions</Lbl>
      <Circ x={667} y={734} color="#d23a48" />
      <Lbl x={675} y={734} align="l" size={7.5}>PE4 insertions</Lbl>
      <Circ x={667} y={747} color="#a8a8a8" open />
      <Lbl x={675} y={747} align="l" size={7.5}>PE2 deletions</Lbl>
      <Circ x={667} y={760} color="#e8868e" open />
      <Lbl x={675} y={760} align="l" size={7.5}>PE4 deletions</Lbl>
    </>
  );
}

export default function App() {
  return (
    <div style={{ position: 'absolute', left: 0, top: 0, width: 740, height: 884, background: '#fff', fontFamily: FONT, color: INK, overflow: 'hidden' }}>
      <PanelA />
      <PanelB />
      <PanelC />
      <PanelD />
      <PanelE />
      <PanelF />
      <PanelG />
      <PanelH />
      <PanelI />
    </div>
  );
}
